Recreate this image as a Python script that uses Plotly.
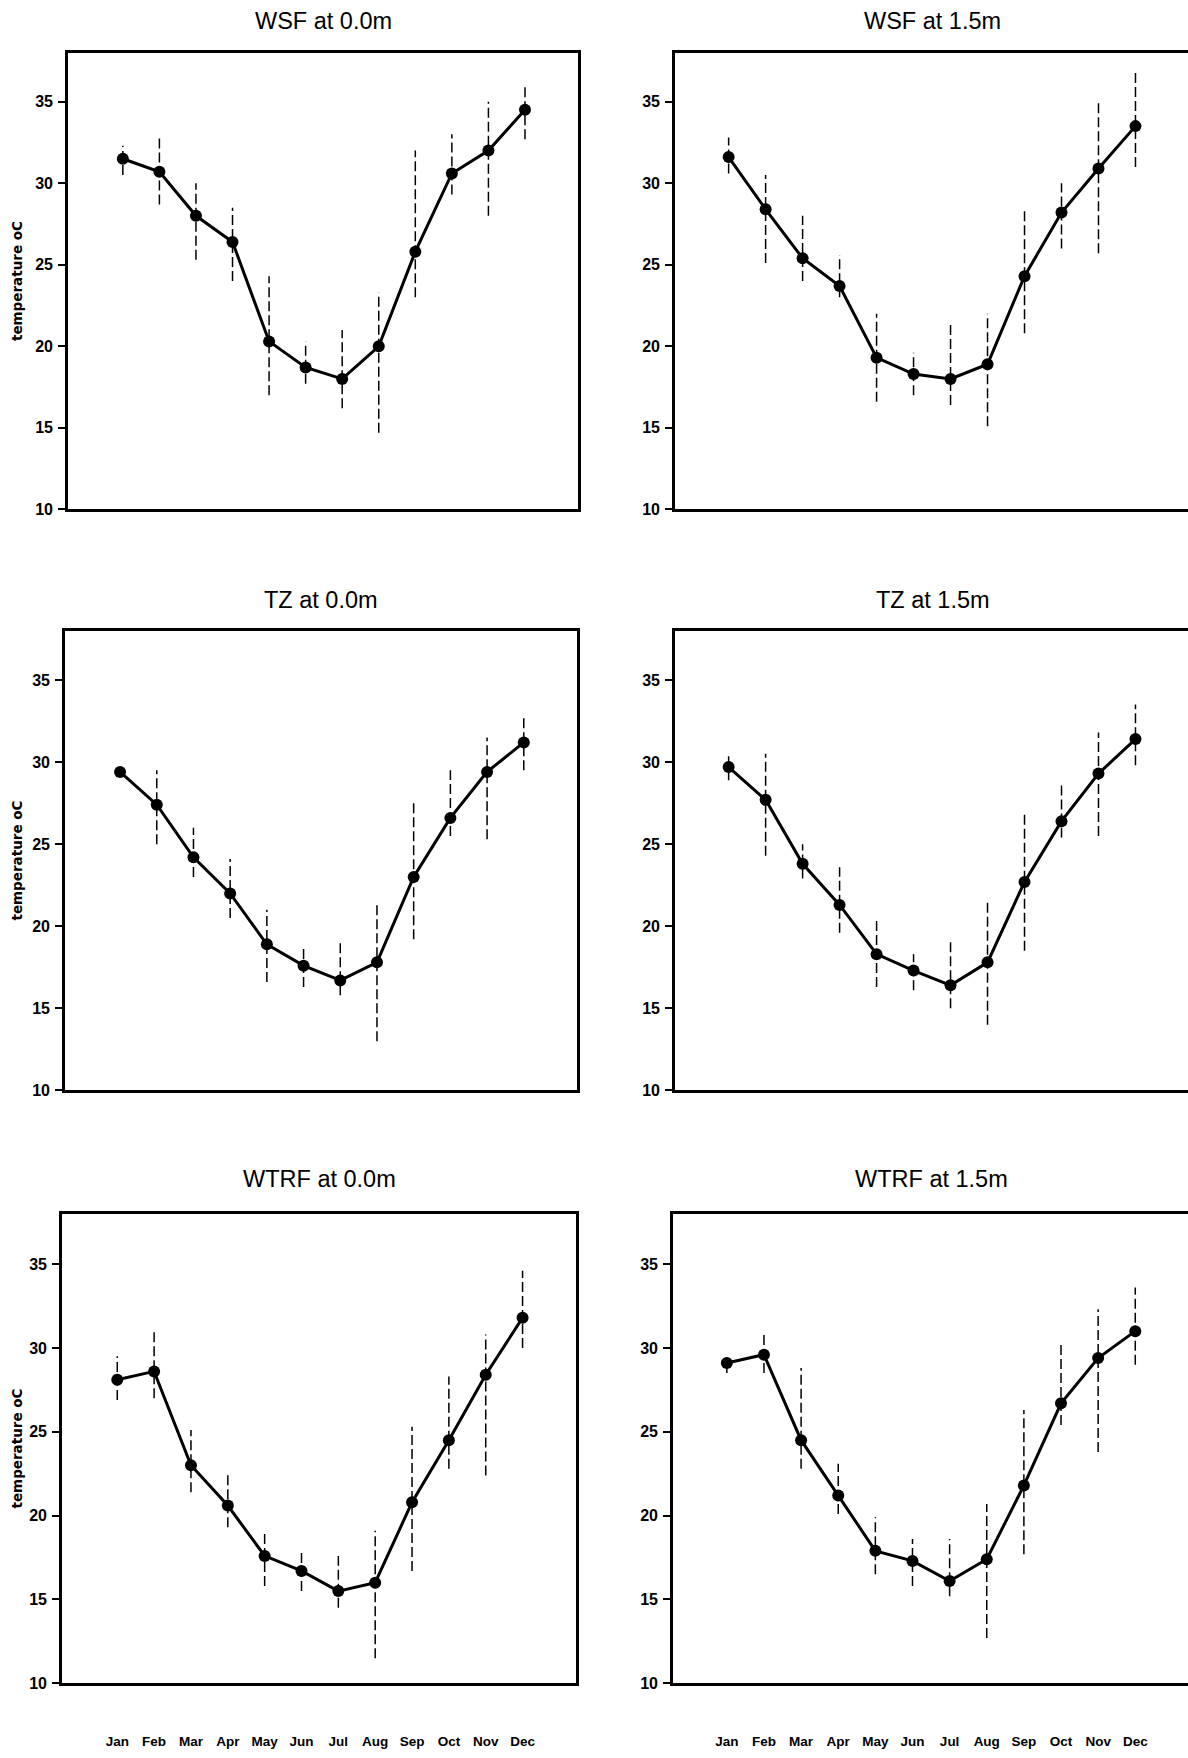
import plotly.graph_objects as go

months = ["Jan", "Feb", "Mar", "Apr", "May", "Jun", "Jul", "Aug", "Sep", "Oct", "Nov", "Dec"]
month_num = list(range(1, 13))

# WSF at 0.0m
wsf0_mean = [31.5, 30.7, 28.0, 26.4, 20.3, 18.7, 18.0, 20.0, 25.8, 30.6, 32.0, 34.5]
wsf0_low = [30.5, 28.7, 25.3, 24.0, 17.0, 17.7, 16.2, 14.7, 23.0, 29.3, 28.0, 32.7]
wsf0_high = [32.3, 32.8, 30.0, 28.5, 24.3, 20.3, 21.0, 23.3, 32.0, 33.0, 35.0, 36.0]

# WSF at 1.5m
wsf15_mean = [31.6, 28.4, 25.4, 23.7, 19.3, 18.3, 18.0, 18.9, 24.3, 28.2, 30.9, 33.5]
wsf15_low = [30.6, 25.1, 24.0, 23.0, 16.6, 17.0, 16.4, 15.1, 20.8, 26.0, 25.7, 31.0]
wsf15_high = [32.8, 30.5, 28.0, 25.6, 22.0, 19.6, 21.3, 22.0, 28.5, 30.0, 35.0, 37.0]

# TZ at 0.0m
tz0_mean = [29.4, 27.4, 24.2, 22.0, 18.9, 17.6, 16.7, 17.8, 23.0, 26.6, 29.4, 31.2]
tz0_low = [29.1, 25.0, 23.0, 20.5, 16.6, 16.3, 15.8, 13.0, 19.2, 25.5, 25.3, 29.5]
tz0_high = [29.7, 29.5, 26.0, 24.1, 21.0, 18.8, 19.0, 21.4, 27.7, 29.5, 31.5, 32.8]

# TZ at 1.5m
tz15_mean = [29.7, 27.7, 23.8, 21.3, 18.3, 17.3, 16.4, 17.8, 22.7, 26.4, 29.3, 31.4]
tz15_low = [28.9, 24.3, 22.9, 19.6, 16.3, 16.1, 15.0, 14.0, 18.5, 25.4, 25.5, 29.8]
tz15_high = [30.5, 30.5, 25.0, 23.6, 20.4, 18.3, 19.1, 21.6, 27.0, 28.8, 31.8, 33.5]

# WTRF at 0.0m
wtrf0_mean = [28.1, 28.6, 23.0, 20.6, 17.6, 16.7, 15.5, 16.0, 20.8, 24.5, 28.4, 31.8]
wtrf0_low = [26.9, 27.0, 21.4, 19.3, 15.8, 15.5, 14.5, 11.5, 16.7, 22.8, 22.4, 30.0]
wtrf0_high = [29.5, 31.0, 25.1, 22.6, 19.1, 18.0, 17.6, 19.1, 25.3, 28.3, 30.8, 34.6]

# WTRF at 1.5m
wtrf15_mean = [29.1, 29.6, 24.5, 21.2, 17.9, 17.3, 16.1, 17.4, 21.8, 26.7, 29.4, 31.0]
wtrf15_low = [28.5, 28.5, 22.8, 20.1, 16.5, 15.8, 15.2, 12.7, 17.7, 25.4, 23.8, 29.0]
wtrf15_high = [29.4, 31.0, 28.8, 23.1, 19.9, 18.6, 18.6, 20.7, 26.3, 30.3, 32.3, 33.6]

panel_titles = ["WSF at 0.0m", "WSF at 1.5m", "TZ at 0.0m", "TZ at 1.5m", "WTRF at 0.0m", "WTRF at 1.5m"]
panel_means = [wsf0_mean, wsf15_mean, tz0_mean, tz15_mean, wtrf0_mean, wtrf15_mean]
panel_lows = [wsf0_low, wsf15_low, tz0_low, tz15_low, wtrf0_low, wtrf15_low]
panel_highs = [wsf0_high, wsf15_high, tz0_high, tz15_high, wtrf0_high, wtrf15_high]

y_ticks = [10, 15, 20, 25, 30, 35]
y_title = "temperature oC"

W, H = 1188, 1758
# pixel geometry of plot boxes (left, right) per row/col and (top, bottom) per row
left_cols = [(68, 578), (65, 577), (62, 576)]
right_cols = [(675, 1188), (675, 1188), (673, 1188)]
rows_px = [(53, 512), (634, 1096), (1220, 1692)]
title_px = [21, 603, 1185]

fig = go.Figure()
layout = dict(
    width=W, height=H,
    margin=dict(l=0, r=0, t=0, b=0),
    paper_bgcolor="white", plot_bgcolor="white",
    showlegend=False,
    annotations=[],
)

for i in range(6):
    r, c = divmod(i, 2)
    k = i + 1
    xa = "x" if k == 1 else f"x{k}"
    ya = "y" if k == 1 else f"y{k}"
    # error bars (dashed vertical lines)
    ex, ey = [], []
    for m, lo, hi in zip(month_num, panel_lows[i], panel_highs[i]):
        ex += [m, m, None]
        ey += [lo, hi, None]
    fig.add_trace(go.Scatter(x=ex, y=ey, mode="lines", xaxis=xa, yaxis=ya,
                             line=dict(color="black", width=1.5, dash="10px,4px"),
                             hoverinfo="skip"))
    fig.add_trace(go.Scatter(x=month_num, y=panel_means[i], mode="lines+markers",
                             xaxis=xa, yaxis=ya,
                             line=dict(color="black", width=3),
                             marker=dict(color="black", size=12, symbol="circle")))

    (x0, x1) = left_cols[r] if c == 0 else right_cols[r]
    (t, b) = rows_px[r]
    xrange = [-0.5, 13.45] if c == 0 else [-0.45, 13.42]
    xkey = "xaxis" if k == 1 else f"xaxis{k}"
    ykey = "yaxis" if k == 1 else f"yaxis{k}"
    layout[xkey] = dict(
        domain=[x0 / W, x1 / W], anchor=ya, range=xrange,
        tickmode="array", tickvals=month_num, ticktext=months,
        showticklabels=(r == 2), ticks="", ticklabelstandoff=44,
        tickfont=dict(family="Liberation Sans", size=13.5, color="black", weight="bold"),
        showline=True, mirror=True, linecolor="black", linewidth=2.6,
        showgrid=False, zeroline=False,
    )
    layout[ykey] = dict(
        domain=[1 - b / H, 1 - t / H], anchor=xa, range=[10, 38],
        tickmode="array", tickvals=y_ticks,
        ticks="outside", ticklen=7, tickwidth=1.5, tickcolor="black",
        ticklabelstandoff=2,
        tickfont=dict(family="Liberation Sans", size=16, color="black", weight="bold"),
        showline=True, mirror=(c == 0), linecolor="black", linewidth=2.6,
        showgrid=False, zeroline=False,
    )
    # panel title
    layout["annotations"].append(dict(
        text=panel_titles[i], xref="paper", yref="paper",
        x=((x0 + (x1 if c == 0 else 1190)) / 2) / W, y=1 - title_px[r] / H,
        xanchor="center", yanchor="middle", showarrow=False,
        font=dict(family="Liberation Sans", size=23.5, color="black")))
    if c == 0:
        layout["annotations"].append(dict(
            text=y_title, xref="paper", yref="paper",
            x=17 / W, y=1 - ((t + b) / 2) / H, textangle=-90,
            xanchor="center", yanchor="middle", showarrow=False,
            font=dict(family="DejaVu Sans", size=13.5, color="black", weight="bold")))

fig.update_layout(**layout)
fig.write_html("out.html")
